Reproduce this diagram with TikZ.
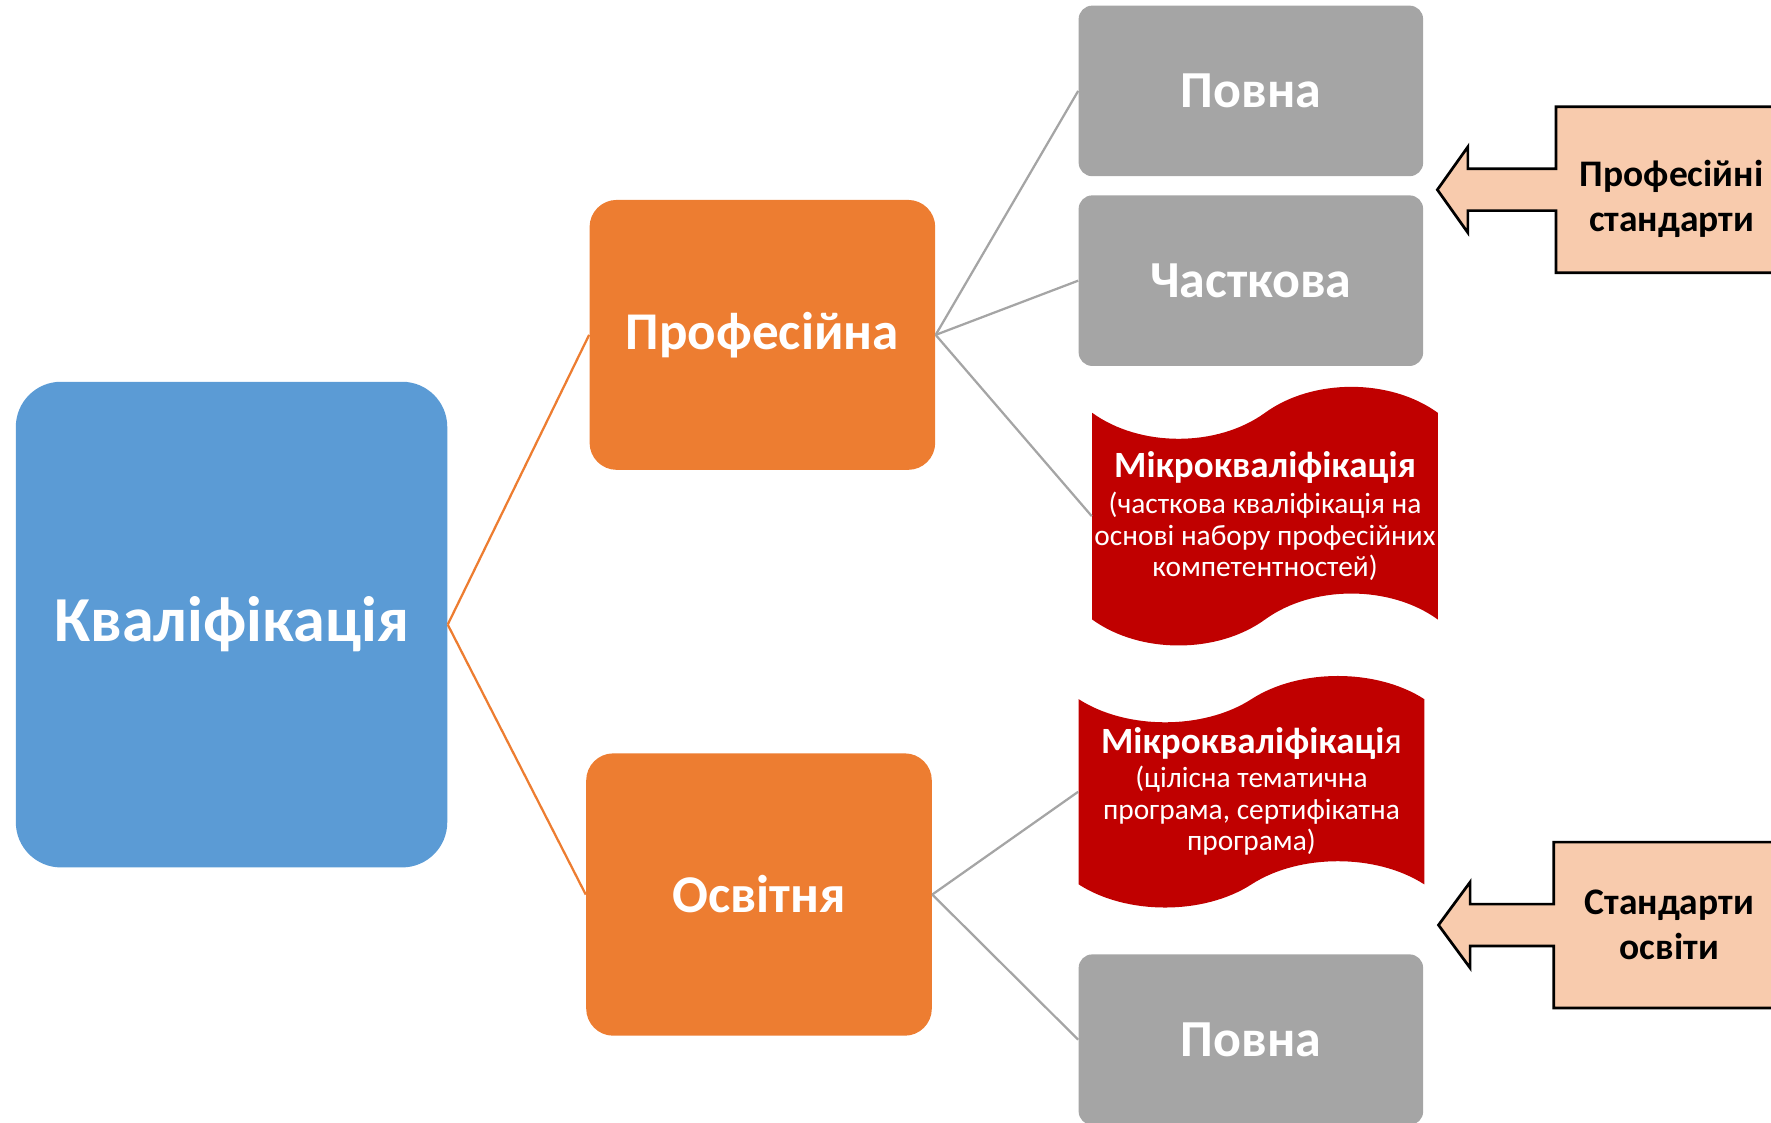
\documentclass[tikz,border=0pt]{standalone}
\usepackage{fontspec}
\setmainfont{Carlito}
\usetikzlibrary{shapes.symbols}

\definecolor{kvblue}{HTML}{5B9BD5}
\definecolor{kvorange}{HTML}{ED7D31}
\definecolor{kvgrey}{HTML}{A5A5A5}
\definecolor{kvred}{HTML}{C00000}
\definecolor{kvpeach}{HTML}{F8CBAD}

\begin{document}
\begin{tikzpicture}
    [x=0.5pt,y=-0.5pt,
    main/.style={rounded corners=20pt,fill=kvblue,text=white,font=\bfseries\fontsize{28.4}{34}\selectfont,minimum width=191pt,minimum height=215pt},
    kind/.style={rounded corners=12pt,fill=kvorange,text=white,font=\bfseries\fontsize{23.5}{28}\selectfont,minimum width=153pt},
    part/.style={rounded corners=6pt,fill=kvgrey,text=white,font=\bfseries\fontsize{23}{28}\selectfont,minimum width=152.5pt,minimum height=75.5pt},
    micro/.style={tape,fill=kvred,text=white,align=center,inner sep=0pt,minimum width=153pt,tape bend height=23pt,font=\fontsize{13}{14}\selectfont},
    std/.style={align=center,font=\bfseries\fontsize{16.6}{20}\selectfont,minimum width=102pt,minimum height=73pt},
    callout/.style={fill=kvpeach,draw=black,line width=1.2pt},
    link/.style={kvorange,line width=1pt},
    sublink/.style={kvgrey,line width=1pt}]

\useasboundingbox (0,0) rectangle (1568,994);

%left side
\node[main] (kval) at (205,553) {Кваліфікація};
\node[kind,minimum height=119.5pt] (prof) at (675,296.5) {Професійна};
\node[kind,minimum height=125pt] (osv) at (672,792) {Освітня};

%right side
\node[part] (full1) at (1107.5,80.5) {Повна};
\node[part] (partial) at (1107.5,248.5) {Часткова};
\node[micro,minimum height=114.5pt] (micro1) at (1120,457)
  {{\bfseries\fontsize{16.4}{16}\selectfont Мікрокваліфікація}\\[2pt]
   (часткова кваліфікація на\\ основі набору професійних\\ компетентностей)};
\node[micro,minimum height=102.5pt,tape bend height=20.5pt] (micro2) at (1108,701)
  {{\bfseries\fontsize{16.4}{16}\selectfont Мікрокваліфікаці}{\fontsize{16.4}{16}\selectfont я}\\[1pt]
   (цілісна тематична\\ програма, сертифікатна\\ програма)};
\node[part] (full2) at (1107.5,920.5) {Повна};

%links
\draw[link] (kval.east) -- (prof.west);
\draw[link] (kval.east) -- (osv.west);
\draw[sublink] (prof.east) -- (full1.west);
\draw[sublink] (prof.east) -- (partial.west);
\draw[sublink] (prof.east) -- (micro1.west);
\draw[sublink] (osv.east) -- (micro2.west);
\draw[sublink] (osv.east) -- (full2.west);

%standards
\node[std] (profstd) at (1480,168) {};
\draw[callout] (profstd.north east) -- (profstd.north west) -- ([yshift=9.25pt]profstd.west)
  -- ++(-39pt,0) -- ++(0,9.75pt) -- ++(-13.5pt,-19pt) -- ++(13.5pt,-19pt) -- ++(0,9.75pt)
  -- ([yshift=-9.25pt]profstd.west) -- (profstd.south west) -- (profstd.south east) -- cycle;
\node[std] at (1480,176) {Професійні\\ стандарти};

\node[std] (edustd) at (1478,819) {};
\draw[callout] (edustd.north east) -- (edustd.north west) -- ([yshift=9.25pt]edustd.west)
  -- ++(-37pt,0) -- ++(0,9.75pt) -- ++(-14pt,-19pt) -- ++(14pt,-19pt) -- ++(0,9.75pt)
  -- ([yshift=-9.25pt]edustd.west) -- (edustd.south west) -- (edustd.south east) -- cycle;
\node[std] at (edustd) {Стандарти\\ освіти};

\end{tikzpicture}
\end{document}
